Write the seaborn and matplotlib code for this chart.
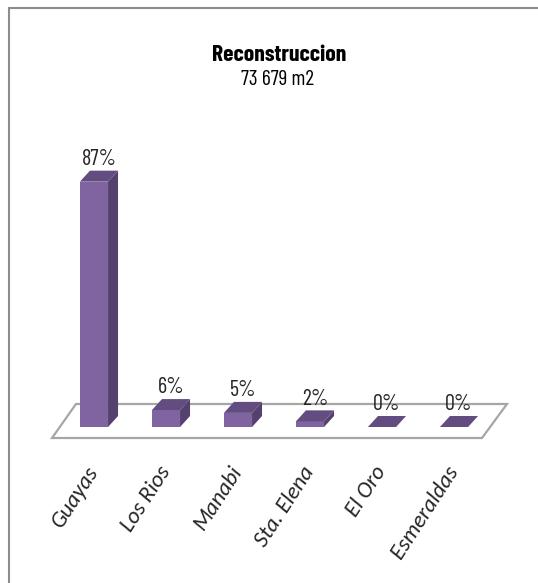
import matplotlib
matplotlib.use("Agg")
import matplotlib.pyplot as plt
from matplotlib.patches import Polygon
from matplotlib.lines import Line2D
from matplotlib.font_manager import FontProperties
import matplotlib.transforms as mtransforms
import seaborn as sns
import pandas as pd

# ---- data ----
categories = ["Guayas", "Los Rios", "Manabi", "Sta. Elena", "El Oro", "Esmeraldas"]
values = [87, 6, 5, 2, 0, 0]
value_labels = ["87%", "6%", "5%", "2%", "0%", "0%"]
title = "Reconstruccion"
subtitle = "73 679 m2"

sns.set_theme(style="white")
plt.rcParams["font.family"] = ["Barlow Condensed", "Carlito", "DejaVu Sans"]

W, H = 538, 583
fig = plt.figure(figsize=(W / 100, H / 100), dpi=100)
fig.patch.set_facecolor("white")

# axes placed in pixel terms (top-origin)
ax_l, ax_r, ax_t, ax_b = 30, 530, 150, 450
ax = fig.add_axes([ax_l / W, (H - ax_b) / H, (ax_r - ax_l) / W, (ax_b - ax_t) / H])

df = pd.DataFrame({"cat": categories, "val": values})
FRONT = "#8064A2"
SIDE = "#54416E"
TOP = "#624C80"
sns.barplot(data=df, x="cat", y="val", color=FRONT, saturation=1, width=0.39,
            edgecolor="none", ax=ax, zorder=3)
bars = list(ax.patches)

x0 = 94
px_per_x = 72
px_per_y = 2.82
ax.set_xlim((ax_l - x0) / px_per_x, (ax_r - x0) / px_per_x)
ax.set_ylim(-(ax_b - 427) / px_per_y, (427 - ax_t) / px_per_y)

dx = 10 / px_per_x
dy = 11 / px_per_y

# floor (decorative plane)
floor = Polygon([(-0.583, -3.9), (-0.25, 8.16), (5.736, 8.16), (5.389, -3.9)],
                closed=True, facecolor="white", edgecolor="#A6A6A6", lw=1.6, zorder=1)
ax.add_patch(floor)

for i, p in enumerate(bars):
    xl = p.get_x()
    w = p.get_width()
    h = p.get_height()
    xr = xl + w
    side = Polygon([(xr, 0), (xr + dx, dy), (xr + dx, h + dy), (xr, h)], closed=True,
                   facecolor=SIDE, edgecolor="none", zorder=3)
    top = Polygon([(xl, h), (xl + dx, h + dy), (xr + dx, h + dy), (xr, h)], closed=True,
                  facecolor=TOP, edgecolor="none", zorder=4)
    ax.add_patch(side)
    ax.add_patch(top)
    ax.text(xl + w / 2 + dx / 2, h + dy + 0.3, value_labels[i], ha="center", va="bottom",
            fontsize=16, color="#262626", zorder=5)

ax.set_xlabel("")
ax.set_ylabel("")
ax.set_yticks([])
ax.set_xticks(range(len(categories)))
tick_fp = FontProperties(family=["Carlito"], style="italic", weight="normal", size=16.5)
ax.set_xticklabels(categories, rotation=57, ha="right", va="center", rotation_mode="anchor",
                   fontproperties=tick_fp, color="#262626")
shift = mtransforms.ScaledTranslation(-4 / 100, 0, fig.dpi_scale_trans)
for t in ax.get_xticklabels():
    t.set_transform(t.get_transform() + shift)
ax.tick_params(axis="x", length=0, pad=13)
for s in ax.spines.values():
    s.set_visible(False)
ax.set_facecolor("none")
ax.grid(False)

fig.text(279 / W, 1 - 55 / H, title, ha="center", va="center", fontsize=17,
         fontweight="bold", color="black")
fig.text(278 / W, 1 - 80 / H, subtitle, ha="center", va="center", fontsize=15.5, color="black")

# outer frame (top and left edges visible)
fig.add_artist(Line2D([9 / W, 1], [1 - 7.5 / H, 1 - 7.5 / H], transform=fig.transFigure,
                      color="#8C8C8C", lw=1.5))
fig.add_artist(Line2D([9 / W, 9 / W], [0, 1 - 7.5 / H], transform=fig.transFigure,
                      color="#8C8C8C", lw=1.5))

fig.savefig("out.png", dpi=100, facecolor="white")
